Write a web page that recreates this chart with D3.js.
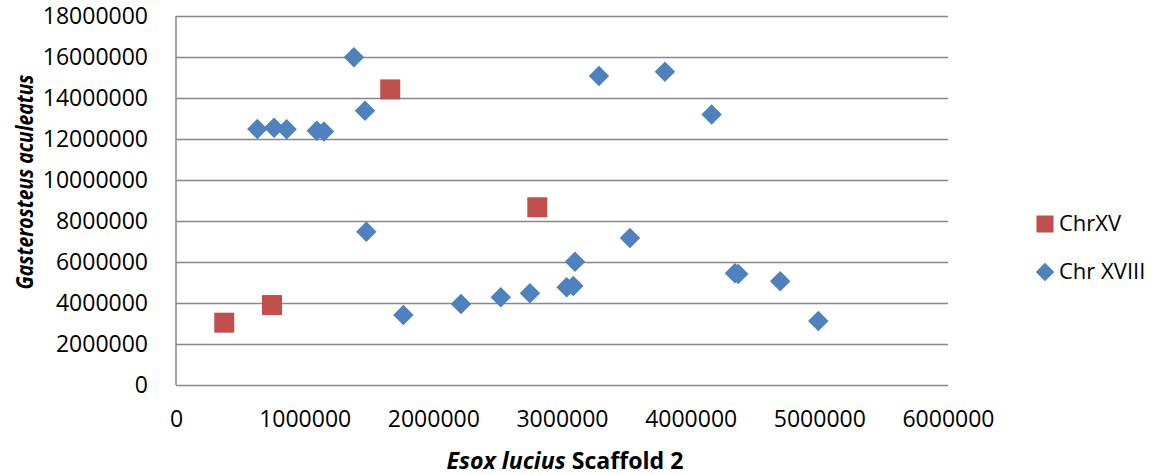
<!DOCTYPE html>
<html>
<head>
<meta charset="utf-8">
<script src="https://cdn.jsdelivr.net/npm/d3@7"></script>
<style>
  body { margin: 0; background: #fff; }
  text { font-family: "Open Sans", "Liberation Sans", sans-serif; fill: #000; }
</style>
</head>
<body>
<div id="chart"></div>
<script>
// ChrXV (red squares)
const chrXVx = [375000, 746000, 1665000, 2808000];
const chrXVy = [3040000, 3900000, 14420000, 8670000];

// Chr XVIII (blue diamonds)
const chrXVIIIx = [632000, 762000, 860000, 1094000, 1150000, 1383000, 1469000, 1479000,
  1767000, 2215000, 2524000, 2751000, 3036000, 3088000, 3101000, 3287000, 3528000,
  3800000, 4163000, 4344000, 4370000, 4696000, 4992000];
const chrXVIIIy = [12490000, 12550000, 12470000, 12400000, 12360000, 15990000, 13380000, 7480000,
  3410000, 3950000, 4280000, 4470000, 4770000, 4830000, 6010000, 15070000, 7170000,
  15280000, 13200000, 5450000, 5410000, 5060000, 3120000];

const seriesNames = ["ChrXV", "Chr XVIII"];
const xTicks = [0, 1000000, 2000000, 3000000, 4000000, 5000000, 6000000];
const yTicks = [0, 2000000, 4000000, 6000000, 8000000, 10000000, 12000000, 14000000, 16000000, 18000000];

const W = 1161, H = 475;
const margin = { top: 16, right: 213, bottom: 90, left: 176 };
const width = W - margin.left - margin.right;
const height = H - margin.top - margin.bottom;

const red = "#C0504D", blue = "#4F81BD", grid = "#888888";

const svg = d3.select("#chart").append("svg")
  .attr("width", W)
  .attr("height", H);

const g = svg.append("g")
  .attr("transform", "translate(" + margin.left + "," + margin.top + ")");

const x = d3.scaleLinear().domain([0, 6000000]).range([0, width]);
const y = d3.scaleLinear().domain([0, 18000000]).range([height, 0]);

// horizontal gridlines + y labels
const yAxis = d3.axisLeft(y)
  .tickValues(yTicks)
  .tickFormat(d3.format("d"))
  .tickSize(-width)
  .tickPadding(28);

g.append("g")
  .attr("class", "y axis")
  .call(yAxis)
  .call(s => s.select(".domain").remove())
  .call(s => s.selectAll(".tick line").attr("stroke", grid).attr("stroke-width", 1.5))
  .call(s => s.selectAll(".tick text").attr("font-size", "23px").attr("dy", "0.34em"));

// x labels (no tick marks)
const xAxis = d3.axisBottom(x)
  .tickValues(xTicks)
  .tickFormat(d3.format("d"))
  .tickSize(0)
  .tickPadding(26);

g.append("g")
  .attr("class", "x axis")
  .attr("transform", "translate(0," + height + ")")
  .call(xAxis)
  .call(s => s.select(".domain").remove())
  .call(s => s.selectAll(".tick text").attr("font-size", "23px"));

// left axis line
g.append("line")
  .attr("x1", 0).attr("x2", 0)
  .attr("y1", 0).attr("y2", height)
  .attr("stroke", grid)
  .attr("stroke-width", 1.5);

// markers
const square = d3.symbol().type(d3.symbolSquare).size(400);
const diamond = d3.symbol().type(d3.symbolSquare).size(210);

g.selectAll(".pt-xviii")
  .data(chrXVIIIx.map((d, i) => [d, chrXVIIIy[i]]))
  .enter().append("path")
    .attr("class", "pt-xviii")
    .attr("d", diamond)
    .attr("fill", blue)
    .attr("transform", d => "translate(" + x(d[0]) + "," + y(d[1]) + ") rotate(45)");

g.selectAll(".pt-xv")
  .data(chrXVx.map((d, i) => [d, chrXVy[i]]))
  .enter().append("path")
    .attr("class", "pt-xv")
    .attr("d", square)
    .attr("fill", red)
    .attr("transform", d => "translate(" + x(d[0]) + "," + y(d[1]) + ")");

// axis titles
const xTitle = svg.append("text")
  .attr("x", margin.left + width / 2 + 3)
  .attr("y", 469)
  .attr("text-anchor", "middle")
  .attr("font-size", "24px")
  .attr("font-weight", "bold")
  .attr("textLength", 237)
  .attr("lengthAdjust", "spacingAndGlyphs");
xTitle.append("tspan").attr("font-style", "italic").text("Esox lucius");
xTitle.append("tspan").text(" Scaffold 2");

svg.append("text")
  .attr("transform", "translate(33," + 182 + ") rotate(-90)")
  .attr("text-anchor", "middle")
  .attr("font-size", "24px")
  .attr("font-weight", "bold")
  .attr("font-style", "italic")
  .attr("textLength", 215)
  .attr("lengthAdjust", "spacingAndGlyphs")
  .text("Gasterosteus aculeatus");

// legend
const legend = svg.append("g").attr("transform", "translate(1045,0)");
const legendY = [224, 272];

legend.append("path")
  .attr("d", d3.symbol().type(d3.symbolSquare).size(290))
  .attr("fill", red)
  .attr("transform", "translate(0," + legendY[0] + ")");
legend.append("path")
  .attr("d", d3.symbol().type(d3.symbolSquare).size(170))
  .attr("fill", blue)
  .attr("transform", "translate(0," + legendY[1] + ") rotate(45)");

legend.selectAll(".legend-text")
  .data(seriesNames)
  .enter().append("text")
    .attr("class", "legend-text")
    .attr("x", 14)
    .attr("y", (d, i) => legendY[i])
    .attr("dy", "0.34em")
    .attr("font-size", "22px")
    .text(d => d);
</script>
</body>
</html>
